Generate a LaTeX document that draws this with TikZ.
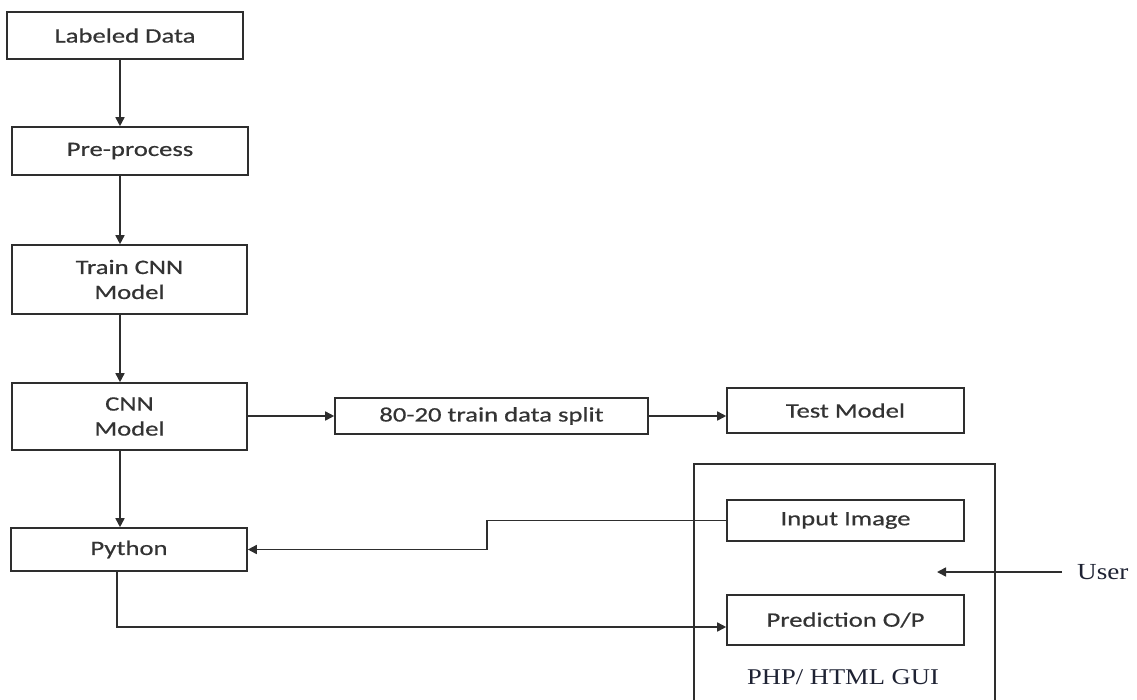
\documentclass[tikz,border=0pt]{standalone}
\usepackage{fontspec}
\setmainfont{Carlito}[FakeStretch=1.3,FakeBold=0.6]
\newfontfamily\seriffam{Liberation Serif}[FakeStretch=1.18]
\usetikzlibrary{arrows.meta,calc}
\definecolor{linec}{HTML}{2E2E2E}
\definecolor{textc}{HTML}{333333}
\definecolor{serifc}{HTML}{1E2233}
\begin{document}
\begin{tikzpicture}[x=1pt,y=-1pt,
  box/.style={draw=linec,line width=1.6pt,rectangle,inner sep=0pt,
    text=textc,align=center,font=\fontsize{20.5}{25}\selectfont},
  arr/.style={draw=linec,line width=1.6pt,-{Triangle[length=9pt,width=9pt]}}]
\clip (0,0) rectangle (1137,699);
\useasboundingbox (0,0) rectangle (1137,699);
\node[box,minimum width=236pt,minimum height=47pt] (ld) at (125,35.5) {Labeled Data};
\node[box,minimum width=236pt,minimum height=48pt] (pp) at (130,151) {Pre-process};
\node[box,minimum width=235pt,minimum height=69pt] (tr) at (129.5,279.5) {Train CNN\\Model};
\node[box,minimum width=235pt,minimum height=67pt] (cnn) at (129.5,416.5) {CNN\\Model};
\node[box,minimum width=236pt,minimum height=43pt] (py) at (129,549.5) {Python};
\node[box,minimum width=313pt,minimum height=36pt] (split) at (491.5,416) {80-20 train data split};
\node[box,minimum width=237pt,minimum height=45pt] (test) at (845.5,410.5) {Test Model};
\node[box,minimum width=301pt,minimum height=241pt] (gui) at (844.5,584.5) {};
\node[box,minimum width=237pt,minimum height=41pt] (inp) at (845.5,520.5) {Input Image};
\node[box,minimum width=237pt,minimum height=50pt] (pred) at (845.5,620) {Prediction O/P};
\node[text=serifc,font=\seriffam\fontsize{22.5}{26}\selectfont] (guilbl) at (843,677) {PHP/ HTML GUI};
\node[text=serifc,font=\seriffam\fontsize{23}{26}\selectfont,anchor=west,inner sep=0pt] (user) at (1077,572) {User};
\coordinate (col) at (120,0);
\coordinate (col2) at (117,0);
\coordinate (uin) at (937,572);
\draw[arr] (ld.south -| col) -- (pp.north -| col);
\draw[arr] (pp.south -| col) -- (tr.north -| col);
\draw[arr] (tr.south -| col) -- (cnn.north -| col);
\draw[arr] (cnn.south -| col) -- (py.north -| col);
\draw[arr] (cnn.east |- split.west) -- (split.west);
\draw[arr] (split.east) -- (split.east -| test.west);
\draw[arr] (inp.west) -- ++(-239,0) |- (py.east);
\draw[arr] (py.south -| col2) |- ($(pred.west)+(0,7)$);
\draw[arr] ($(user.west)+(-15,0)$) -- (uin);
\end{tikzpicture}
\end{document}
